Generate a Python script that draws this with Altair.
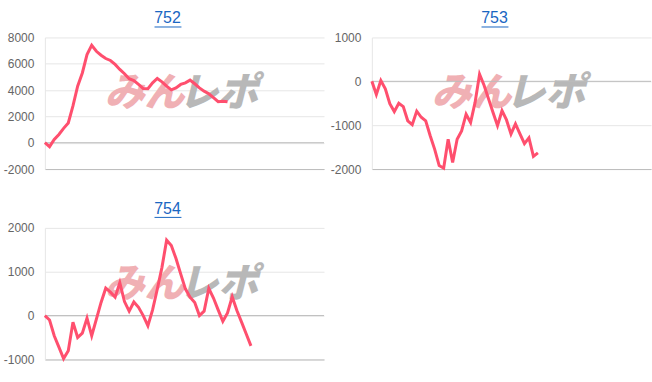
import altair as alt
import pandas as pd

# ---- data ----
titles = ["752", "753", "754"]

s752 = [0, -300, 250, 630, 1090, 1500, 2800, 4300, 5300, 6700, 7400, 6950, 6650,
        6400, 6250, 5950, 5570, 5240, 4860, 4730, 4430, 4120, 4100, 4550, 4880,
        4630, 4300, 4020, 4170, 4430, 4550, 4760, 4480, 4170, 3920, 3720, 3420,
        3120, 3160, 3110]

s753 = [0, -300, 20, -170, -510, -690, -500, -575, -900, -990, -680, -820, -900,
        -1240, -1550, -1920, -1980, -1320, -1850, -1320, -1130, -750, -940, -480,
        160, -90, -400, -710, -1010, -670, -880, -1200, -970, -1200, -1420, -1290,
        -1710, -1630]

s754 = [0, -100, -460, -720, -980, -800, -150, -500, -400, -60, -460, -80, 300,
        625, 535, 420, 750, 320, 100, 310, 190, 0, -230, 130, 600, 1100, 1720,
        1600, 1300, 950, 610, 420, 300, 0, 100, 620, 400, 130, -130, 60, 430, 115,
        -150, -420, -690]

ticks752 = [-2000, 0, 2000, 4000, 6000, 8000]
ticks753 = [-2000, -1000, 0, 1000]
ticks754 = [-1000, 0, 1000, 2000]

# number of x slots on each panel's category axis (as measured)
xspan752 = 59.6
xspan753 = 62.2
xspan754 = 59.6

watermark = ["みん", "レポ"]

# ---- styling ----
W, H = 280, 132
LINE = "#ff4f6e"
TITLE_COLOR = "#1a66c2"
GRID = "#e6e6e6"
DARK = "#bcbcbc"
FONT = "Liberation Sans"
EXT = 42


def panel(title, values, ticks, xspan):
    df = pd.DataFrame({"i": list(range(len(values))), "v": values})
    yenc = alt.Y(
        "v:Q",
        scale=alt.Scale(domain=[min(ticks), max(ticks)], nice=False, zero=False),
        axis=alt.Axis(values=ticks, title=None, ticks=False, tickSize=0,
                      labelExpr="'' + datum.value",
                      labelPadding=11, labelFontSize=12, labelColor="#666666",
                      labelFont=FONT, gridColor=GRID, domainColor=GRID,
                      minExtent=EXT, maxExtent=EXT),
    )
    xenc = alt.X(
        "i:Q",
        scale=alt.Scale(domain=[0, xspan], nice=False, zero=False),
        axis=alt.Axis(labels=False, ticks=False, grid=False, title=None,
                      domainColor=DARK, minExtent=0, maxExtent=0),
    )
    line = alt.Chart(df).mark_line(color=LINE, strokeWidth=3, strokeJoin="miter").encode(
        x=xenc, y=yenc)
    zero = alt.Chart(pd.DataFrame({"v": [0]})).mark_rule(color=DARK, strokeWidth=1).encode(
        y=yenc)
    wm1 = alt.Chart(pd.DataFrame({"t": [watermark[0]]})).mark_text(
        font="Noto Sans CJK JP", fontSize=40, fontWeight=900, fontStyle="italic",
        color="#f0b0b4", baseline="middle", align="center").encode(
        text="t:N", x=alt.value(100), y=alt.value(57))
    wm2 = alt.Chart(pd.DataFrame({"t": [watermark[1]]})).mark_text(
        font="Noto Sans CJK JP", fontSize=40, fontWeight=900, fontStyle="italic",
        color="#b8b8b8", baseline="middle", align="center").encode(
        text="t:N", x=alt.value(174), y=alt.value(57))
    underline = alt.Chart(pd.DataFrame({"u": [0]})).mark_rule(
        color=TITLE_COLOR, strokeWidth=1).encode(
        x=alt.value(110), x2=alt.value(137), y=alt.value(-10.5))
    return alt.layer(wm1, wm2, zero, line, underline).properties(
        width=W, height=H,
        title=alt.TitleParams(title, fontSize=16, font=FONT, fontWeight="normal",
                              color=TITLE_COLOR, offset=0, anchor="middle",
                              frame="group", dx=-17),
    )


c752 = panel(titles[0], s752, ticks752, xspan752)
c753 = panel(titles[1], s753, ticks753, xspan753)
c754 = panel(titles[2], s754, ticks754, xspan754)

chart = alt.vconcat(
    alt.hconcat(c752, c753, spacing=5),
    c754,
    spacing=26,
).properties(
    padding={"left": 3, "top": 10, "right": 0, "bottom": 5},
).configure_view(stroke=None)

chart.save("out.html", embed_options={"renderer": "svg", "actions": False})
